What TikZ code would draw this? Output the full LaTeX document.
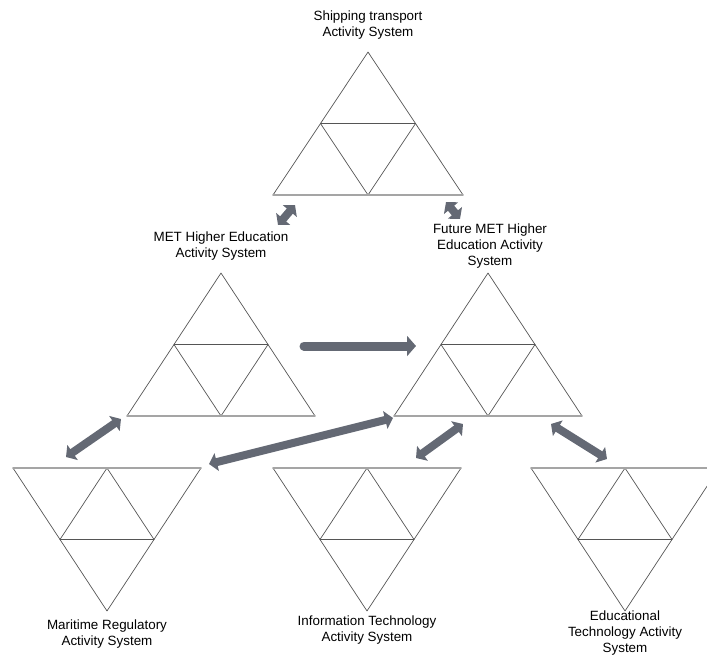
\documentclass[tikz,border=0pt]{standalone}
\usepackage{fontspec}
\setmainfont{Liberation Sans}
\usepackage{xcolor}
\usetikzlibrary{arrows.meta}
\definecolor{arrowgray}{RGB}{100,105,116}
\definecolor{edge}{RGB}{85,85,85}
\definecolor{rimgray}{RGB}{165,165,165}

\begin{document}
\begin{tikzpicture}[x=1pt, y=-1pt,
  every node/.style={align=center, inner sep=0pt, font=\fontsize{13.4}{16.2}\selectfont},
  tri/.style={draw=edge, line width=0.7pt, line join=round},
  rim/.style={draw=rimgray, line width=1.4pt, line cap=round},
  link/.style={draw=arrowgray, line width=8pt, {Triangle[width=18pt,length=8pt]}-{Triangle[width=18pt,length=8pt]}},
  push/.style={draw=arrowgray, line width=9pt, line cap=round, -{Triangle[width=20pt,length=9pt]}}]
\useasboundingbox (0,0) rectangle (707,656);

% Points
\coordinate (shipT) at (368,52);
\coordinate (shipL) at (273,195);
\coordinate (shipR) at (463,195);
\coordinate (metT) at (221,273);
\coordinate (metL) at (127,416);
\coordinate (metR) at (315,416);
\coordinate (futT) at (488,273);
\coordinate (futL) at (394,416);
\coordinate (futR) at (582,416);
\coordinate (marL) at (13,468);
\coordinate (marR) at (201,468);
\coordinate (marB) at (107,611);
\coordinate (itL) at (273,468);
\coordinate (itR) at (461,468);
\coordinate (itB) at (367,611);
\coordinate (eduL) at (531,468);
\coordinate (eduR) at (719,468);
\coordinate (eduB) at (625,611);

% Labels
\node (ship) at (368,25) {Shipping transport\\Activity System};
\node (met) at (221,246) {MET Higher Education\\Activity System};
\node (fut) at (490,246) {Future MET Higher\\Education Activity\\System};
\node (mar) at (107,634) {Maritime Regulatory\\Activity System};
\node (it) at (367,630) {Information Technology\\Activity System};
\node (edu) at (625,633) {Educational\\Technology Activity\\System};

%Triangles
\draw[tri] (shipT) -- (shipL) -- (shipR) -- cycle;
\draw[tri] (320.5,123.5) -- (415.5,123.5) -- (368,195) -- cycle;
\draw[rim] (shipL) -- (shipR);
\draw[tri] (metT) -- (metL) -- (metR) -- cycle;
\draw[tri] (174,344.5) -- (268,344.5) -- (221,416) -- cycle;
\draw[rim] (metL) -- (metR);
\draw[tri] (futT) -- (futL) -- (futR) -- cycle;
\draw[tri] (441,344.5) -- (535,344.5) -- (488,416) -- cycle;
\draw[rim] (futL) -- (futR);
\draw[tri] (marL) -- (marR) -- (marB) -- cycle;
\draw[tri] (60,539.5) -- (154,539.5) -- (107,468) -- cycle;
\draw[rim] (marL) -- (marR);
\draw[tri] (itL) -- (itR) -- (itB) -- cycle;
\draw[tri] (320,539.5) -- (414,539.5) -- (367,468) -- cycle;
\draw[rim] (itL) -- (itR);
\draw[tri] (eduL) -- (eduR) -- (eduB) -- cycle;
\draw[tri] (578,539.5) -- (672,539.5) -- (625,468) -- cycle;
\draw[rim] (eduL) -- (eduR);

%Arrows
\coordinate (a1s) at (295,205);
\coordinate (a1e) at (278,225);
\coordinate (a2s) at (446,202);
\coordinate (a2e) at (460,219);
\coordinate (a3s) at (304,346);
\coordinate (a3e) at (416,346);
\coordinate (a4s) at (121,419);
\coordinate (a4e) at (66,457);
\coordinate (a5s) at (393,418);
\coordinate (a5e) at (209,464);
\coordinate (a6s) at (463,424);
\coordinate (a6e) at (416,458);
\coordinate (a7s) at (551,424);
\coordinate (a7e) at (607,459);
\draw[link] (a1s) -- (a1e);
\draw[link] (a2s) -- (a2e);
\draw[push] (a3s) -- (a3e);
\draw[link] (a4s) -- (a4e);
\draw[link] (a5s) -- (a5e);
\draw[link] (a6s) -- (a6e);
\draw[link] (a7s) -- (a7e);
\end{tikzpicture}
\end{document}
